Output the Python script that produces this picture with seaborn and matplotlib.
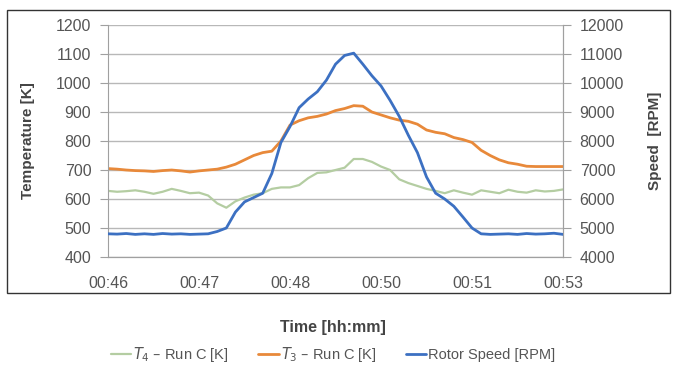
import matplotlib
matplotlib.use("Agg")
from matplotlib import pyplot as plt
from matplotlib.lines import Line2D
from matplotlib.patches import Rectangle
import numpy as np
import pandas as pd
import seaborn as sns

# sample positions along the (category style) time axis, 0 = 00:46, 5 = 00:53
pos = np.linspace(0, 5, 51)
tick_labels = ["00:46", "00:47", "00:48", "00:50", "00:51", "00:53"]

t4_run_c = [628, 625, 627, 630, 625, 618, 625, 635, 628, 620,
            622, 612, 585, 570, 592, 605, 615, 620, 635, 640,
            640, 648, 672, 690, 692, 700, 708, 738, 738, 728,
            712, 700, 668, 655, 645, 635, 628, 620, 630, 622,
            615, 630, 625, 620, 632, 625, 622, 630, 626, 628, 633]

t3_run_c = [705, 703, 700, 698, 697, 695, 698, 700, 697, 693,
            697, 700, 703, 710, 720, 735, 750, 760, 765, 800,
            855, 870, 880, 885, 893, 905, 912, 922, 920, 900,
            890, 880, 872, 868, 858, 838, 830, 825, 812, 805,
            795, 768, 750, 735, 725, 720, 713, 712, 712, 712, 712]

rotor_rpm = [4800, 4790, 4810, 4780, 4800, 4780, 4810, 4790, 4800, 4780,
             4790, 4800, 4880, 5000, 5550, 5900, 6050, 6200, 6880, 7950,
             8500, 9150, 9450, 9700, 10100, 10650, 10950, 11030, 10650, 10250,
             9900, 9400, 8850, 8200, 7600, 6760, 6200, 6000, 5750, 5380,
             5000, 4800, 4780, 4790, 4800, 4780, 4810, 4790, 4800, 4820, 4780]

df = pd.DataFrame({"pos": pos, "t4": t4_run_c, "t3": t3_run_c, "rpm": rotor_rpm})

c_green = "#b4cda2"
c_orange = "#e8893a"
c_blue = "#3c70c2"
c_text = "#555555"

sns.set_style("white")
plt.rcParams["font.family"] = ["Liberation Sans", "DejaVu Sans"]

fig = plt.figure(figsize=(6.73, 3.68), dpi=100)
ax = fig.add_axes([0.1605, 0.3016, 0.6761, 0.6304])
ax2 = ax.twinx()

sns.lineplot(data=df, x="pos", y="t4", ax=ax, color=c_green, linewidth=1.6)
sns.lineplot(data=df, x="pos", y="t3", ax=ax, color=c_orange, linewidth=2.0)
sns.lineplot(data=df, x="pos", y="rpm", ax=ax2, color=c_blue, linewidth=2.0)

ax.set_xlim(0, 5)
ax.set_ylim(400, 1200)
ax2.set_ylim(4000, 12000)
ax.set_yticks(range(400, 1201, 100))
ax2.set_yticks(range(4000, 12001, 1000))
ax.set_xticks(range(6))
ax.set_xticklabels(tick_labels)

ax.grid(axis="y", color="#b8b8b8", linewidth=1.0)
ax.set_axisbelow(True)
for a in (ax, ax2):
    for s in a.spines.values():
        s.set_color("#a0a0a0")
    a.spines["top"].set_visible(False)
    a.tick_params(colors="#a0a0a0", labelcolor=c_text, labelsize=11.5,
                  length=6, width=0.8, direction="out")
ax.tick_params(axis="x", pad=8)
ax.tick_params(axis="y", pad=6)
ax2.tick_params(axis="y", pad=6)
ax2.spines["left"].set_visible(False)

ax.set_xlabel("")
ax.set_ylabel("Temperature [K]", fontsize=11, fontweight="bold", color="#444444")
ax2.set_ylabel("Speed  [RPM]", fontsize=11, fontweight="bold", color="#444444", rotation=90)
ax.yaxis.set_label_coords(-0.16, 0.5)
ax2.yaxis.set_label_coords(1.187, 0.5)

# outer chart frame
fig.patches.append(Rectangle((0.0104, 0.2038), 0.985, 0.769, transform=fig.transFigure,
                             fill=False, edgecolor="#333333", linewidth=1.0))

fig.text(0.494, 0.11, "Time [hh:mm]", ha="center", va="center",
         fontsize=11.5, fontweight="bold", color="#444444")

handles = [Line2D([], [], color=c_green, linewidth=1.6),
           Line2D([], [], color=c_orange, linewidth=2.0),
           Line2D([], [], color=c_blue, linewidth=2.0)]
labels = ["$T_4$ – Run C [K]", "$T_3$ – Run C [K]", "Rotor Speed [RPM]"]
fig.legend(handles, labels, loc="center", bbox_to_anchor=(0.495, 0.037), ncol=3,
           frameon=False, fontsize=10.5, handlelength=1.4, handletextpad=0.15,
           columnspacing=2.0, labelcolor=c_text, borderpad=0)

fig.savefig("out.png", dpi=100)
